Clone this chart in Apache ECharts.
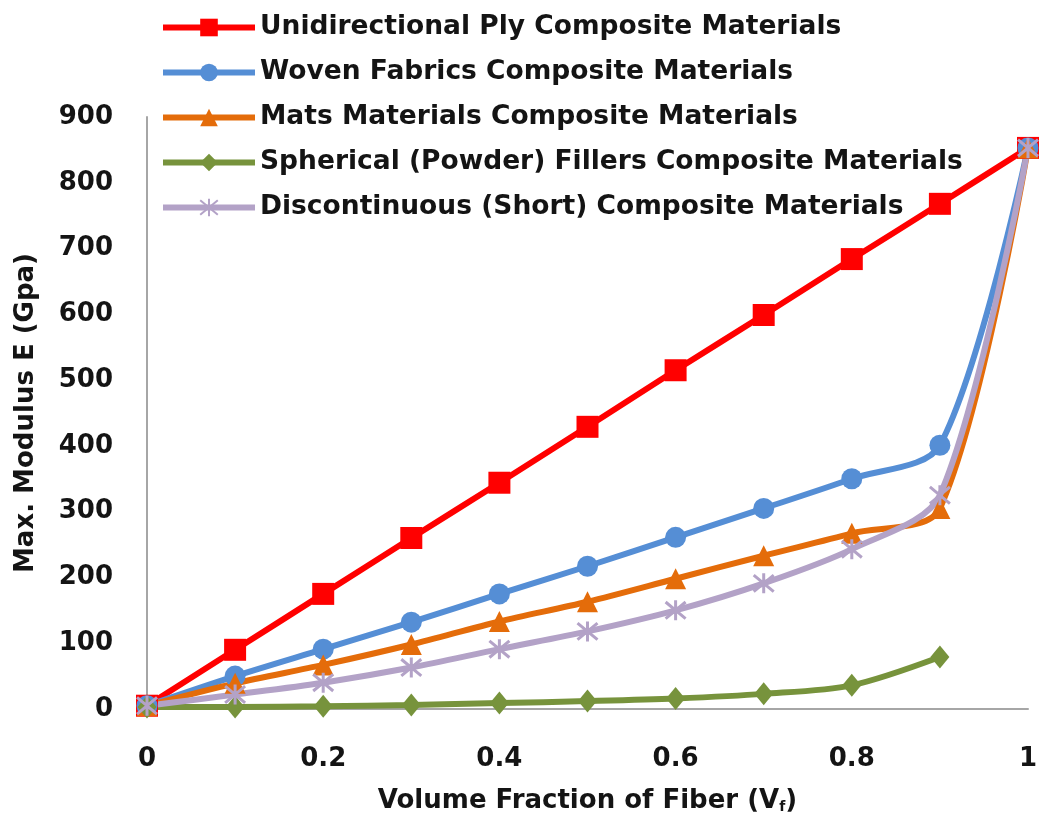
<!DOCTYPE html>
<html>
<head>
<meta charset="utf-8">
<title>Max. Modulus vs Volume Fraction</title>
<style>
  html, body { margin: 0; padding: 0; background: #fff; }
  #chart { width: 1047px; height: 823px; }
</style>
</head>
<body>
<div id="chart"></div>
<script src="https://cdn.jsdelivr.net/npm/echarts@6/dist/echarts.min.js"></script>
<script>
// volume fraction of fiber
var vf = [0, 0.1, 0.2, 0.3, 0.4, 0.5, 0.6, 0.7, 0.8, 0.9, 1];

var unidirectional = [5, 90, 175, 260, 344, 429, 515, 599, 684, 768, 853];
var woven = [5, 50, 91, 132, 175, 217, 261, 305, 350, 401, 853];
var mats = [5, 39, 67, 98, 133, 163, 198, 233, 267, 305, 853];
var spherical = [3, 3, 4, 6, 9, 12, 16, 23, 36, 79, null];
var discontinuous = [5, 22, 40, 63, 91, 118, 150, 191, 243, 325, 853];

var seriesNames = [
  'Unidirectional Ply Composite Materials',
  'Woven Fabrics Composite Materials',
  'Mats Materials Composite Materials',
  'Spherical (Powder) Fillers Composite Materials',
  'Discontinuous (Short) Composite Materials'
];
var colors = ['#FF0000', '#558ED5', '#E46C0A', '#77933C', '#B3A2C7'];

var asterisk = 'path://M0,0L10,10M10,0L0,10M5,-1L5,11';
var FONT = 'DejaVu Sans';

function pairs(ys) {
  return vf.map(function (x, i) { return [x, ys[i]]; });
}

function makeSeries(idx, ys, symbol, size) {
  var s = {
    name: seriesNames[idx],
    type: 'line',
    smooth: 0.3,
    data: pairs(ys),
    symbol: symbol,
    symbolSize: size,
    showAllSymbol: true,
    connectNulls: false,
    lineStyle: { color: colors[idx], width: 6 },
    itemStyle: { color: colors[idx] },
    emphasis: { disabled: true }
  };
  return s;
}

var series = [
  makeSeries(0, unidirectional, 'rect', 22),
  makeSeries(1, woven, 'circle', 21),
  makeSeries(2, mats, 'triangle', 21),
  makeSeries(3, spherical, 'diamond', [19, 23]),
  makeSeries(4, discontinuous, asterisk, 20)
];
series[4].itemStyle = { color: colors[4], borderColor: colors[4], borderWidth: 3 };

var chart = echarts.init(document.getElementById('chart'));
chart.setOption({
  backgroundColor: '#fff',
  animation: false,
  color: colors,
  grid: { left: 147, right: 19, top: 117, bottom: 114, containLabel: false },
  legend: {
    orient: 'vertical',
    left: 155,
    top: 9,
    itemWidth: 92,
    itemHeight: 22,
    itemGap: 18,
    selectedMode: false,
    lineStyle: { width: 6 },
    textStyle: { fontFamily: FONT, fontSize: 26.5, fontWeight: 'bold', color: '#141414', padding: [0, 0, 0, 0] },
    data: seriesNames
  },
  xAxis: {
    type: 'value',
    min: 0,
    max: 1,
    interval: 0.2,
    name: 'Volume Fraction of Fiber (V{sub|f})',
    nameLocation: 'middle',
    nameGap: 79,
    nameTextStyle: {
      fontFamily: FONT, fontSize: 26, fontWeight: 'bold', color: '#141414',
      rich: {
        sub: { fontFamily: FONT, fontSize: 14, fontWeight: 'bold', color: '#141414', verticalAlign: 'bottom', lineHeight: 16 }
      }
    },
    axisLine: { show: true, lineStyle: { color: '#A6A6A6', width: 2 } },
    axisTick: { show: false },
    splitLine: { show: false },
    axisLabel: { fontFamily: FONT, fontSize: 26, fontWeight: 'bold', color: '#141414', margin: 37 }
  },
  yAxis: {
    type: 'value',
    min: 0,
    max: 900,
    interval: 100,
    name: 'Max. Modulus E (Gpa)',
    nameLocation: 'middle',
    nameGap: 108,
    nameTextStyle: { fontFamily: FONT, fontSize: 26, fontWeight: 'bold', color: '#141414' },
    axisLine: { show: true, lineStyle: { color: '#A6A6A6', width: 2 } },
    axisTick: { show: false },
    splitLine: { show: false },
    axisLabel: { fontFamily: FONT, fontSize: 26, fontWeight: 'bold', color: '#141414', margin: 34 }
  },
  series: series
});
</script>
</body>
</html>
